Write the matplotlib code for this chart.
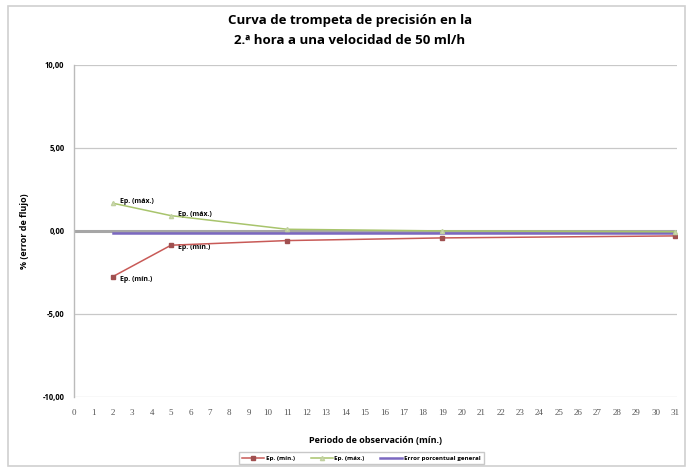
import matplotlib
matplotlib.use("Agg")
import matplotlib.pyplot as plt
from matplotlib.patches import Rectangle

# datos
minutos = [2, 5, 11, 19, 31]
ep_min = [-2.75, -0.86, -0.58, -0.42, -0.30]
ep_max = [1.67, 0.92, 0.10, 0.00, -0.05]
error_general = -0.15
y_ticks = [-10, -5, 0, 5, 10]
x_ticks = list(range(0, 32))

plt.rcParams['font.family'] = ['Open Sans', 'DejaVu Sans']

fig = plt.figure(figsize=(6.86, 4.67), dpi=100)
ax = fig.add_axes([0.108, 0.150, 0.879, 0.711])

# marco del area del grafico
fig.patches.append(Rectangle((0.011, 0.002), 0.987, 0.985, transform=fig.transFigure,
                             fill=False, edgecolor='#D0D0D0', linewidth=1.2))

# lineas de division
for v in y_ticks:
    if v != 0:
        ax.axhline(v, color='#C8C8C8', linewidth=0.9, zorder=1)
ax.axhline(0, color='#A6A6A6', linewidth=2.2, zorder=2)

ax.plot([minutos[0], minutos[-1]], [error_general, error_general], color='#7B68C0',
        linewidth=1.8, zorder=3, label='Error porcentual general')
ax.plot(minutos, ep_min, color='#C85A57', linewidth=1.1, marker='s', markersize=3,
        markerfacecolor='#A05050', markeredgecolor='#A05050', zorder=4, label='Ep. (mín.)')
ax.plot(minutos, ep_max, color='#A8C46C', linewidth=1.1, marker='^', markersize=3,
        markerfacecolor='#D0DDB0', markeredgecolor='#C0D0A0', zorder=4, label='Ep. (máx.)')

# etiquetas de datos
for x, y in zip(minutos[:2], ep_min[:2]):
    ax.annotate('Ep. (mín.)', (x, y), xytext=(5, -2), textcoords='offset points',
                fontsize=5, fontweight='bold', va='center', ha='left')
for x, y in zip(minutos[:2], ep_max[:2]):
    ax.annotate('Ep. (máx.)', (x, y), xytext=(5, 1), textcoords='offset points',
                fontsize=5, fontweight='bold', va='center', ha='left')

ax.set_xlim(0, 31.1)
ax.set_ylim(-10, 10)
ax.set_yticks(y_ticks)
ax.set_yticklabels([f'{v:.2f}'.replace('.', ',') for v in y_ticks], fontsize=5.5, fontweight='bold')
ax.set_xticks(x_ticks)
ax.set_xticklabels([str(v) for v in x_ticks], fontsize=6.5, color='#555555',
                   family=['Liberation Serif'])
ax.tick_params(axis='both', length=0)
ax.tick_params(axis='x', pad=9)
ax.tick_params(axis='y', pad=7)

for s in ['top', 'right', 'bottom']:
    ax.spines[s].set_visible(False)
ax.spines['left'].set_color('#BBBBBB')
ax.spines['left'].set_linewidth(1.0)

ax.set_ylabel('% (error de flujo)', fontsize=6.5, fontweight='bold', labelpad=10)
ax.set_xlabel('Periodo de observación (mín.)', fontsize=6.5, fontweight='bold', labelpad=13)

fig.suptitle('Curva de trompeta de precisión en la\n2.ª hora a una velocidad de 50 ml/h',
             x=0.51, y=0.97, fontsize=9.5, fontweight='bold', linespacing=1.65)

handles, labels = ax.get_legend_handles_labels()
order = [1, 2, 0]
leg = fig.legend([handles[i] for i in order], [labels[i] for i in order],
                 loc='center', bbox_to_anchor=(0.527, 0.019), ncol=3, fontsize=4.5,
                 frameon=True, fancybox=False, edgecolor='#BBBBBB', handlelength=3.5,
                 columnspacing=2.5, borderpad=0.5, handletextpad=0.3)
for t in leg.get_texts():
    t.set_fontweight('bold')

fig.savefig('out.png', dpi=100)
